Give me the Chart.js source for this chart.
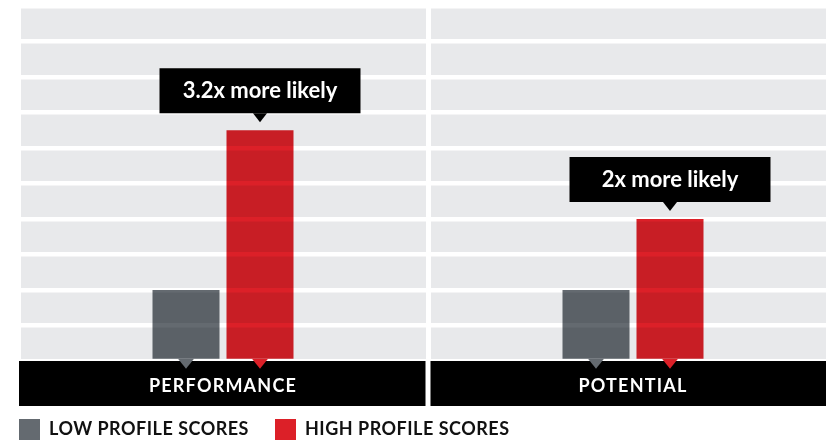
<!DOCTYPE html>
<html>
<head>
<meta charset="utf-8">
<script src="https://cdn.jsdelivr.net/npm/chart.js@4"></script>
<style>
  html, body { margin: 0; padding: 0; background: #fff; overflow: hidden; }
  #wrap { width: 850px; height: 440px; }
</style>
</head>
<body>
<div id="wrap"><canvas id="chart"></canvas></div>
<script>
// values (bar heights in grid steps)
var categories = ['PERFORMANCE', 'POTENTIAL'];
var seriesNames = ['LOW PROFILE SCORES', 'HIGH PROFILE SCORES'];
var lowScores = [2, 2];
var highScores = [6.5, 4];
var callouts = ['3.2x more likely', '2x more likely'];

var FONT = 'Lato';

// grey panels, black label band, pointers and callout boxes
var panels = {
  id: 'panels',
  beforeLayout: function (chart) { chart.ctx.letterSpacing = '0.5px'; },
  afterLayout: function (chart) {
    chart.ctx.letterSpacing = '0px';
    var lg = chart.legend, pad = lg.options.labels.padding;
    lg.left = chart.chartArea.left + 1 - pad;
    lg.top = chart.height - 21 - pad;
    // let the x labels draw over the whole black band
    chart.scales.x.bottom = chart.scales.x.top + 45;
  },
  beforeDraw: function (chart) {
    var ctx = chart.ctx, a = chart.chartArea;
    ctx.fillStyle = '#e8e9eb';
    ctx.fillRect(a.left + 1, a.top, a.right - a.left, a.bottom - a.top);
    ctx.letterSpacing = '0.5px'; // legend
  },
  beforeDatasetsDraw: function (chart) {
    var ctx = chart.ctx, a = chart.chartArea, x = chart.scales.x;
    var w = x.width / categories.length;
    ctx.fillStyle = '#000';
    categories.forEach(function (c, i) {
      var cx = x.getPixelForValue(i);
      var x0 = i === 0 ? a.left + 1 : cx - w / 2 + 2.5;
      var x1 = cx + w / 2 - 2.5;
      ctx.fillRect(x0, a.bottom, x1 - x0, 45);
    });
    ctx.globalCompositeOperation = 'multiply';
  },
  afterDatasetsDraw: function (chart) {
    var ctx = chart.ctx;
    ctx.globalCompositeOperation = 'source-over';
    chart.data.datasets.forEach(function (ds, di) {
      chart.getDatasetMeta(di).data.forEach(function (bar) {
        ctx.fillStyle = ds.backgroundColor;
        ctx.beginPath();
        ctx.moveTo(bar.x - 8, bar.base);
        ctx.lineTo(bar.x + 8, bar.base);
        ctx.lineTo(bar.x, bar.base + 10);
        ctx.closePath();
        ctx.fill();
      });
    });
    ctx.save();
    ctx.letterSpacing = '0px';
    ctx.font = 'bold 22px ' + FONT;
    ctx.textAlign = 'center';
    ctx.textBaseline = 'middle';
    chart.getDatasetMeta(1).data.forEach(function (bar, i) {
      var bottom = bar.y - 17;
      ctx.fillStyle = '#000';
      ctx.fillRect(bar.x - 100.5, bottom - 45, 201, 45);
      ctx.beginPath();
      ctx.moveTo(bar.x - 7, bottom);
      ctx.lineTo(bar.x + 7, bottom);
      ctx.lineTo(bar.x, bottom + 9);
      ctx.closePath();
      ctx.fill();
      ctx.fillStyle = '#fff';
      ctx.fillText(callouts[i], bar.x, bottom - 22);
    });
    ctx.restore();
    ctx.letterSpacing = '1.2px'; // x tick labels are drawn next (ticks.z = 1)
  },
  afterDraw: function (chart) { chart.ctx.letterSpacing = '0px'; }
};

new Chart(document.getElementById('chart'), {
  type: 'bar',
  data: {
    labels: categories,
    datasets: [
      { label: seriesNames[0], data: lowScores, backgroundColor: '#646a70',
        borderWidth: 0, barPercentage: 67 / 74, categoryPercentage: 148 / 410 },
      { label: seriesNames[1], data: highScores, backgroundColor: '#dc2028',
        borderWidth: 0, barPercentage: 67 / 74, categoryPercentage: 148 / 410 }
    ]
  },
  options: {
    responsive: true,
    maintainAspectRatio: false,
    devicePixelRatio: 1,
    animation: false,
    layout: { padding: { left: 18, right: 12, top: 6, bottom: 0 } },
    plugins: {
      tooltip: { enabled: false },
      legend: {
        position: 'bottom',
        align: 'start',
        labels: {
          boxWidth: 21, boxHeight: 21, padding: 26, color: '#111',
          font: { family: FONT, size: 18, weight: 'bold' }
        }
      }
    },
    scales: {
      x: {
        grid: { offset: true, color: '#fff', lineWidth: 5, drawTicks: false },
        border: { display: false },
        ticks: { color: '#fff', padding: 14, z: 1,
                 font: { family: FONT, size: 18, weight: 'bold' } },
        afterFit: function (s) { s.height = 22; }
      },
      y: {
        min: 0, max: 10,
        grid: { color: '#fff', lineWidth: 4.5, drawTicks: false },
        border: { display: false },
        ticks: { display: false, stepSize: 1 },
        afterFit: function (s) { s.width = 0; }
      }
    }
  },
  plugins: [panels]
});
</script>
</body>
</html>
